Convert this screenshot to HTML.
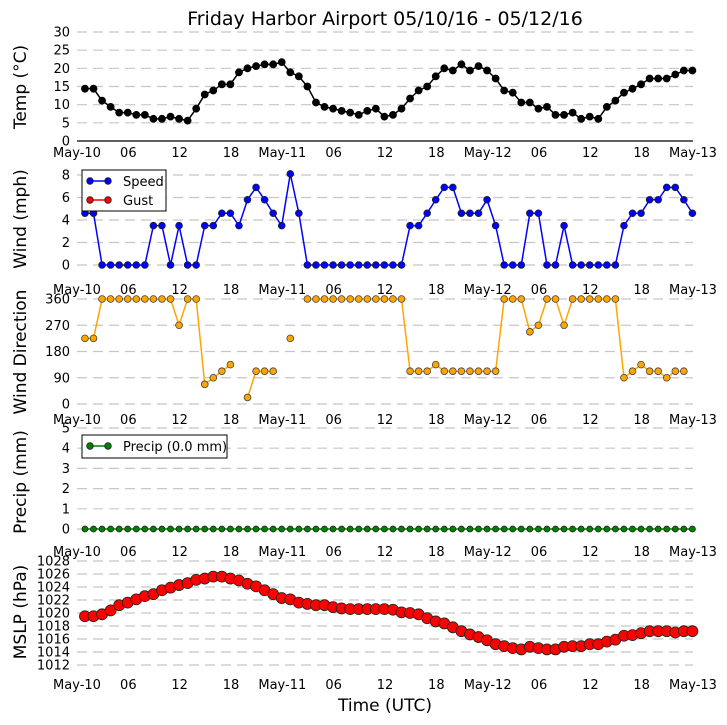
<!DOCTYPE html>
<html><head><meta charset="utf-8"><style>
body{margin:0;background:#fff;}
svg{display:block;font-family:"DejaVu Sans","Liberation Sans",sans-serif;}
</style></head><body>
<svg id="chart" width="727" height="725"></svg>
<script>
const timeLabels=["May-10","06","12","18","May-11","06","12","18","May-12","06","12","18","May-13"];
const tempValues=[14.4,14.4,11.1,9.4,7.8,7.8,7.2,7.2,6.1,6.1,6.7,6.1,5.6,8.9,12.8,13.9,15.6,15.6,18.9,20,20.6,21.1,21.1,21.7,18.9,17.8,15,10.6,9.4,8.9,8.3,7.8,7.2,8.3,8.9,6.7,7.2,8.9,11.7,13.9,15,17.8,20,19.4,21.1,19.4,20.6,19.4,17.2,13.9,13.3,10.6,10.6,8.9,9.4,7.2,7.2,7.8,6.1,6.7,6.1,9.4,11.1,13.3,14.4,15.6,17.2,17.2,17.2,18.3,19.4,19.4];
const windSpeed=[4.6,4.6,0,0,0,0,0,0,3.5,3.5,0,3.5,0,0,3.5,3.5,4.6,4.6,3.5,5.8,6.9,5.8,4.6,3.5,8.1,4.6,0,0,0,0,0,0,0,0,0,0,0,0,3.5,3.5,4.6,5.8,6.9,6.9,4.6,4.6,4.6,5.8,3.5,0,0,0,4.6,4.6,0,0,3.5,0,0,0,0,0,0,3.5,4.6,4.6,5.8,5.8,6.9,6.9,5.8,4.6];
const windDir=[225,225,360,360,360,360,360,360,360,360,360,270,360,360,67.5,90,112.5,135,null,22.5,112.5,112.5,112.5,null,225,null,360,360,360,360,360,360,360,360,360,360,360,360,112.5,112.5,112.5,135,112.5,112.5,112.5,112.5,112.5,112.5,112.5,360,360,360,247.5,270,360,360,270,360,360,360,360,360,360,90,112.5,135,112.5,112.5,90,112.5,112.5,null];
const precipValues=new Array(72).fill(0);
const pressureValues=[1019.5,1019.5,1019.8,1020.4,1021.2,1021.6,1022.1,1022.6,1022.9,1023.5,1023.9,1024.3,1024.6,1025.1,1025.3,1025.6,1025.6,1025.3,1025.0,1024.5,1024.1,1023.5,1022.9,1022.3,1022.1,1021.6,1021.4,1021.2,1021.2,1020.9,1020.7,1020.6,1020.6,1020.6,1020.6,1020.6,1020.5,1020.1,1020.0,1019.8,1019.2,1018.7,1018.4,1017.8,1017.2,1016.7,1016.3,1015.8,1015.2,1014.9,1014.6,1014.4,1014.8,1014.6,1014.4,1014.4,1014.8,1014.9,1014.9,1015.2,1015.2,1015.6,1015.9,1016.5,1016.6,1016.9,1017.2,1017.2,1017.2,1017.0,1017.2,1017.2];
const tempTicks=[0,5,10,15,20,25,30];
const windTicks=[0,2,4,6,8];
const dirTicks=[0,90,180,270,360];
const precipTicks=[0,1,2,3,4,5];
const pressTicks=[1012,1014,1016,1018,1020,1022,1024,1026,1028];

const NS="http://www.w3.org/2000/svg";
const svg=document.getElementById('chart');
function mk(tag,attrs,parent){const e=document.createElementNS(NS,tag);for(const k in attrs)e.setAttribute(k,attrs[k]);(parent||svg).appendChild(e);return e;}
const X0=77,X1=693;
function xHour(h){return X0+(X1-X0)*h/72;}
function xIdx(i){return xHour(i+0.93);}

function panel(name,ticks,vals,yMin,yMax,yTop,yBot,tickLabelY,ylabel,ylabelY,color,edge,r,showZeroAxis){
  const g=mk('g',{});
  
  
  const y=v=>yBot-(v-yMin)/(yMax-yMin)*(yBot-yTop);
  ticks.forEach(t=>{
    if(!(showZeroAxis&&t===yMin)){
      const l=mk('line',{x1:X0,x2:X1,y1:y(t),y2:y(t),stroke:'#c8c8c8','stroke-width':1.2,'stroke-dasharray':'10,6'},g);
      
      
    }
    const tx=mk('text',{x:70,y:y(t)+4.5,'text-anchor':'end','font-size':13,fill:'#000'},g);
    tx.textContent=t;
    
    
  });
  if(showZeroAxis){
    const a=mk('line',{x1:X0,x2:X1,y1:y(yMin),y2:y(yMin),stroke:'#000','stroke-width':1.2},g);
    
    
  }
  timeLabels.forEach((lb,k)=>{
    const tx=mk('text',{x:xHour(k*6),y:tickLabelY,'text-anchor':'middle','font-size':13,fill:'#000'},g);
    tx.textContent=lb;
    
    
  });
  const yl=mk('text',{x:0,y:0,transform:`translate(26,${ylabelY}) rotate(-90)`,'text-anchor':'middle','font-size':17,fill:'#000'},g);
  yl.textContent=ylabel;
  
  
  let d='',pen=false;
  vals.forEach((v,i)=>{
    if(v===null){pen=false;return;}
    d+=(pen?'L':'M')+xIdx(i).toFixed(2)+','+y(v).toFixed(2);pen=true;
  });
  const p=mk('path',{d:d,fill:'none',stroke:color,'stroke-width':1.5},g);
  
  
  vals.forEach((v,i)=>{
    if(v===null)return;
    const c=mk('circle',{cx:xIdx(i),cy:y(v),r:r,fill:color,stroke:edge,'stroke-width':0.8},g);
    
    
  });
  return g;
}
panel('temp',tempTicks,tempValues,0,30,32,141,157,'Temp (°C)',87,'#000','#000',3.5,true);
panel('wind',windTicks,windSpeed,0,8,175,265,294,'Wind (mph)',219,'#0000ff','#222',3.4,false);
panel('direction',dirTicks,windDir,0,360,299,404,424,'Wind Direction',352,'#ffa500','#444',3.4,false);
panel('precip',precipTicks,precipValues,0,5,428,529,556,'Precip (mm)',482,'#008000','#222',3,false);
panel('pressure',pressTicks,pressureValues,1012,1028,561,665,689,'MSLP (hPa)',612,'#ff0000','#222',5.5,false);

function legend(name,x,y,w,h,items){
  const g=mk('g',{});
  
  
  mk('rect',{x:x,y:y,width:w,height:h,fill:'#fff',stroke:'#000','stroke-width':1},g);
  items.forEach((it,k)=>{
    const cy=y+11+k*19;
    mk('line',{x1:x+8,x2:x+26,y1:cy,y2:cy,stroke:it.c,'stroke-width':1.5},g);
    mk('circle',{cx:x+8,cy:cy,r:3.3,fill:it.c,stroke:'#222','stroke-width':0.8},g);
    mk('circle',{cx:x+26,cy:cy,r:3.3,fill:it.c,stroke:'#222','stroke-width':0.8},g);
    const t=mk('text',{x:x+41,y:cy+5,'font-size':13,fill:'#000'},g);
    t.textContent=it.t;
    
    
  });
}
legend('wind-legend',82,170,84,41,[{t:'Speed',c:'#0000ff'},{t:'Gust',c:'#ff0000'}]);
legend('precip-legend',82,435,145,23,[{t:'Precip (0.0 mm)',c:'#008000'}]);

const title=mk('text',{x:385,y:25,'text-anchor':'middle','font-size':19,fill:'#000'});
title.textContent='Friday Harbor Airport 05/10/16 - 05/12/16';


const xt=mk('text',{x:385,y:711,'text-anchor':'middle','font-size':17,fill:'#000'});
xt.textContent='Time (UTC)';


</script>
</body></html>
